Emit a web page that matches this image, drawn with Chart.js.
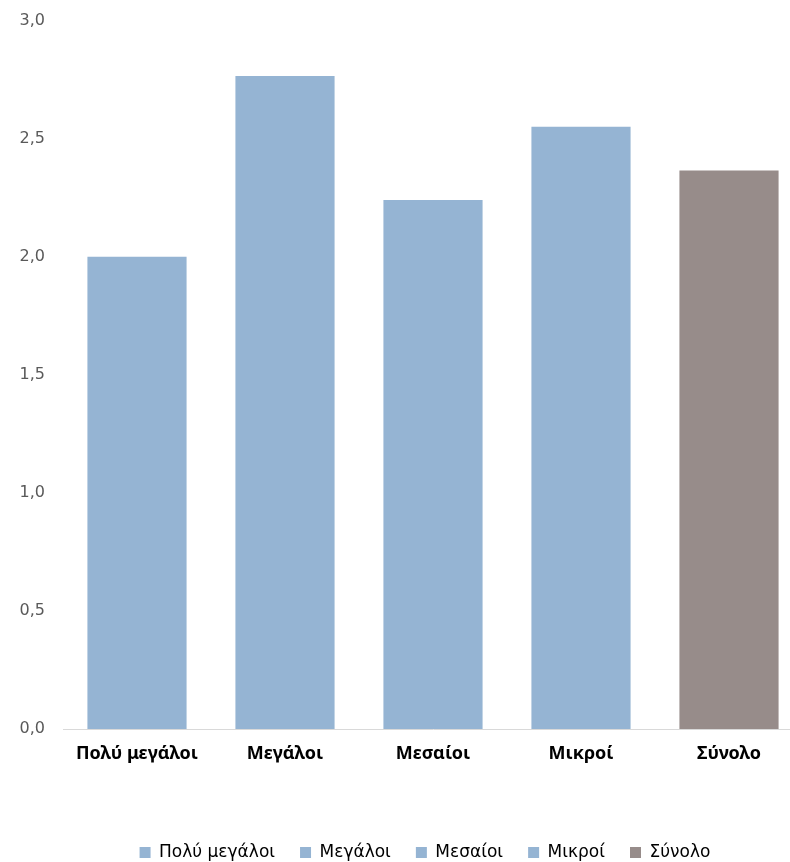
<!DOCTYPE html>
<html>
<head>
<meta charset="utf-8">
<script src="https://cdn.jsdelivr.net/npm/chart.js@4"></script>
<style>
  html, body { margin: 0; padding: 0; background: #fff; overflow: hidden; }
  #wrap { width: 850px; height: 878px; margin-top: -7px; }
</style>
</head>
<body>
<div id="wrap"><canvas id="barChart" width="850" height="878"></canvas></div>
<script>
// Дані
const categories = ['Πολύ μεγάλοι', 'Μεγάλοι', 'Μεσαίοι', 'Μικροί', 'Σύνολο'];
const values = [2.0, 2.765, 2.24, 2.55, 2.365];
const barColors = ['#95b4d3', '#95b4d3', '#95b4d3', '#95b4d3', '#978c8a'];
const yTicks = [0, 0.5, 1.0, 1.5, 2.0, 2.5, 3.0];

const ctx = document.getElementById('barChart');

new Chart(ctx, {
  type: 'bar',
  data: {
    labels: categories,
    datasets: [
      {
        data: values,
        backgroundColor: barColors,
        borderWidth: 0,
        barPercentage: 1,
        categoryPercentage: 0.67
      }
    ]
  },
  options: {
    responsive: false,
    animation: false,
    layout: {
      padding: { top: 5, left: 0, right: 0, bottom: 0 }
    },
    scales: {
      x: {
        grid: { display: false, drawTicks: false },
        border: { display: true, color: '#d9d9d9', width: 1 },
        ticks: {
          color: '#000',
          padding: 14,
          font: { family: 'Noto Sans', size: 18, weight: 'bold' }
        },
        afterFit: s => { s.height = 90; }
      },
      y: {
        min: 0,
        max: 3,
        grid: { display: false, drawTicks: false },
        border: { display: false },
        afterBuildTicks: s => { s.ticks = yTicks.map(v => ({ value: v })); },
        ticks: {
          color: '#595959',
          padding: 18,
          font: { family: 'DejaVu Sans', size: 16 },
          callback: v => v.toFixed(1).replace('.', ',')
        },
        afterFit: s => { s.width = 63; }
      },
      // пусте місце справа, щоб легенда була по центру
      yRight: {
        position: 'right',
        display: true,
        grid: { display: false, drawTicks: false },
        border: { display: false },
        ticks: { display: false },
        afterFit: s => { s.width = 47; }
      }
    },
    plugins: {
      legend: {
        position: 'bottom',
        labels: {
          color: '#595959',
          boxWidth: 11,
          boxHeight: 11,
          padding: 25,
          font: { family: 'DejaVu Sans', size: 17 },
          generateLabels: () => categories.map((c, i) => ({
            text: c,
            fillStyle: barColors[i],
            strokeStyle: barColors[i],
            lineWidth: 0,
            hidden: false,
            index: i
          }))
        }
      },
      tooltip: { enabled: false }
    }
  }
});
</script>
</body>
</html>
